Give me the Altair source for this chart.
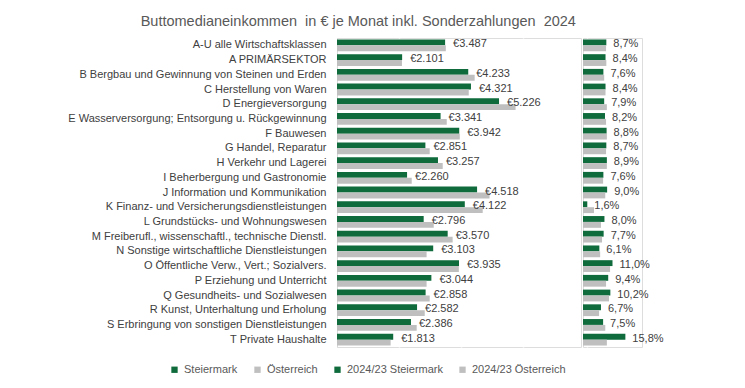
import altair as alt
import pandas as pd

categories = [
    "A-U alle Wirtschaftsklassen",
    "A PRIMÄRSEKTOR",
    "B Bergbau und Gewinnung von Steinen und Erden",
    "C Herstellung von Waren",
    "D Energieversorgung",
    "E Wasserversorgung; Entsorgung u. Rückgewinnung",
    "F Bauwesen",
    "G Handel, Reparatur",
    "H Verkehr und Lagerei",
    "I Beherbergung und Gastronomie",
    "J Information und Kommunikation",
    "K Finanz- und Versicherungsdienstleistungen",
    "L Grundstücks- und Wohnungswesen",
    "M Freiberufl., wissenschaftl., technische Dienstl.",
    "N Sonstige wirtschaftliche Dienstleistungen",
    "O Öffentliche Verw., Vert.; Sozialvers.",
    "P Erziehung und Unterricht",
    "Q Gesundheits- und Sozialwesen",
    "R Kunst, Unterhaltung und Erholung",
    "S Erbringung von sonstigen Dienstleistungen",
    "T Private Haushalte",
]

steiermark = [3487, 2101, 4233, 4321, 5226, 3341, 3942, 2851, 3257, 2260,
              4518, 4122, 2796, 3570, 3103, 3935, 3044, 2858, 2582, 2386, 1813]
oesterreich = [3510, 2095, 4440, 4250, 5760, 3540, 3960, 2990, 3410, 2410,
               4920, 4700, 3120, 3730, 2890, 3930, 2890, 2990, 2830, 2570, 1730]
chg_stmk = [8.7, 8.4, 7.6, 8.4, 7.9, 8.2, 8.8, 8.7, 8.9, 7.6,
            9.0, 1.6, 8.0, 7.7, 6.1, 11.0, 9.4, 10.2, 6.7, 7.5, 15.8]
chg_oe = [8.6, 8.7, 7.9, 8.4, 8.9, 8.6, 8.9, 8.6, 8.9, 7.5,
          8.3, 4.1, 6.7, 7.1, 6.4, 10.1, 8.6, 9.7, 6.0, 8.3, 8.9]

series_names = ["Steiermark", "Österreich", "2024/23 Steiermark", "2024/23 Österreich"]
series_colors = ["#0f6b3c", "#bfbfbf", "#0f6b3c", "#bfbfbf"]

TXT = "#404040"
FONT = "Liberation Sans"

cats = categories

rows_l = []
rows_r = []
for i, c in enumerate(cats):
    rows_l.append({"cat": c, "pos": "a", "series": "Steiermark", "value": steiermark[i],
                   "label": "€" + f"{steiermark[i]:,}".replace(",", ".")})
    rows_l.append({"cat": c, "pos": "b", "series": "Österreich", "value": oesterreich[i], "label": ""})
    rows_r.append({"cat": c, "pos": "a", "series": "2024/23 Steiermark", "value": chg_stmk[i],
                   "label": f"{chg_stmk[i]:.1f}".replace(".", ",") + "%"})
    rows_r.append({"cat": c, "pos": "b", "series": "2024/23 Österreich", "value": chg_oe[i], "label": ""})
df_l = pd.DataFrame(rows_l)
df_r = pd.DataFrame(rows_r)

H = 309
color = alt.Color("series:N", scale=alt.Scale(domain=series_names, range=series_colors),
                  legend=alt.Legend(title=None, orient="none", legendX=-168, legendY=H + 17,
                                    direction="horizontal", columns=4,
                                    symbolType="square", symbolSize=40, symbolStrokeWidth=0,
                                    labelFontSize=11, labelFont=FONT, labelColor="#595959",
                                    columnPadding=14, labelOffset=4))
yoff = alt.YOffset("pos:N", scale=alt.Scale(domain=["a", "b"], paddingInner=0, paddingOuter=0))

y_left = alt.Y("cat:N", sort=cats,
               scale=alt.Scale(domain=cats, paddingInner=0.2, paddingOuter=0.1),
               axis=alt.Axis(title=None, ticks=False, labelPadding=11, minExtent=328, maxExtent=328,
                             domainColor="#d9d9d9", labelFont=FONT, labelFontSize=11,
                             labelColor=TXT, labelLimit=400))
x_left = alt.X("value:Q", scale=alt.Scale(domain=[0, 7870], nice=False, zero=True),
               axis=alt.Axis(title=None, labels=False, ticks=False, domain=False, grid=True,
                             gridColor="white", gridWidth=1.5, values=[2000, 4000, 6000]))

left_bars = alt.Chart(df_l).mark_bar().encode(y=y_left, yOffset=yoff, x=x_left, color=color)
left_text = alt.Chart(df_l).transform_filter(alt.datum.pos == "a").mark_text(
    align="left", baseline="middle", dx=8, dy=2, font=FONT, fontSize=11, color=TXT
).encode(y=y_left, yOffset=yoff, x=x_left, text="label:N")
left = alt.layer(left_bars, left_text).properties(width=244, height=H)

y_right = alt.Y("cat:N", sort=cats, scale=alt.Scale(domain=cats, paddingInner=0.2, paddingOuter=0.1),
                axis=None)
x_right = alt.X("value:Q", scale=alt.Scale(domain=[0, 22], nice=False, zero=True),
                axis=alt.Axis(title=None, labels=False, ticks=False, domain=False, grid=True,
                              gridColor="white", gridWidth=1.5, values=[1.5]))
right_bars = alt.Chart(df_r).mark_bar().encode(y=y_right, yOffset=yoff, x=x_right, color=color)
right_text = alt.Chart(df_r).transform_filter(alt.datum.pos == "a").mark_text(
    align="left", baseline="middle", dx=7, dy=2, font=FONT, fontSize=11, color=TXT
).encode(y=y_right, yOffset=yoff, x=x_right, text="label:N")
right = alt.layer(right_bars, right_text).properties(width=59, height=H)

chart = alt.hconcat(left, right, spacing=0).resolve_scale(x="independent").properties(
    title=alt.Title("Buttomedianeinkommen \u00a0in € je Monat inkl. Sonderzahlungen \u00a02024",
                    fontSize=14.5, font=FONT, color="#595959", fontWeight="normal",
                    anchor="middle", offset=8, dx=22),
    padding={"left": 0, "top": 6, "right": 5, "bottom": 5},
).configure_view(fill="#f2f2f2", strokeWidth=0).configure(background="white")

chart.save("out.html", embed_options={"renderer": "svg", "actions": False})
